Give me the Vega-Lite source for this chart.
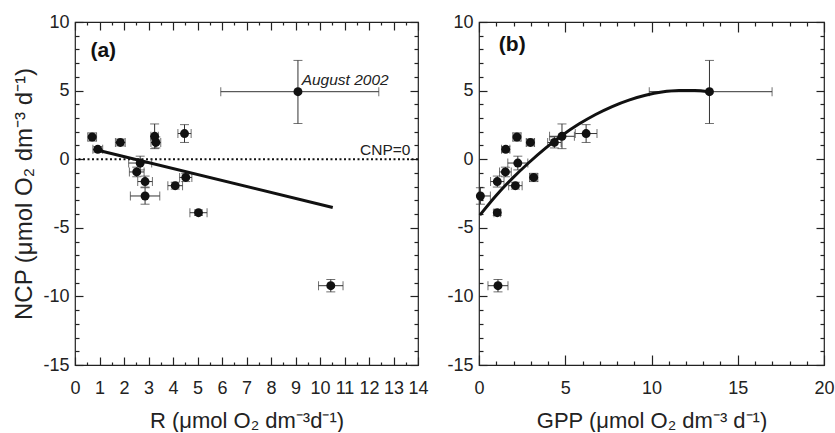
{
  "$schema": "https://vega.github.io/schema/vega-lite/v6.json",
  "padding": {"left": 12, "top": 12, "right": 0, "bottom": 0},
  "spacing": 17,
  "config": {
    "font": "Liberation Sans",
    "view": {"stroke": "#222", "strokeWidth": 1.2},
    "axis": {"grid": false, "domain": false, "tickColor": "#222", "tickWidth": 1.2, "labelColor": "#222", "labelFontSize": 18, "labelOverlap": false, "labelFlush": false, "titleFontSize": 22, "titleFontWeight": "normal", "titleColor": "#222", "labelExpr": "toString(datum.value)"},
    "axisLeft": {"labelPadding": 14, "titlePadding": 6, "titleFontSize": 24},
    "axisBottom": {"labelPadding": 22, "titlePadding": 13}
  },
  "datasets": {
    "st": [
      {"R": 0.7, "Rlo": 0.52, "Rhi": 0.88, "NCP": 1.62, "Nlo": 1.32, "Nhi": 1.92, "GPP": 2.2, "Glo": 1.96, "Ghi": 2.44},
      {"R": 0.93, "Rlo": 0.73, "Rhi": 1.13, "NCP": 0.72, "Nlo": 0.52, "Nhi": 0.92, "GPP": 1.55, "Glo": 1.31, "Ghi": 1.79},
      {"R": 1.85, "Rlo": 1.65, "Rhi": 2.05, "NCP": 1.22, "Nlo": 0.97, "Nhi": 1.47, "GPP": 2.98, "Glo": 2.74, "Ghi": 3.22},
      {"R": 3.25, "Rlo": 3.1, "Rhi": 3.4, "NCP": 1.67, "Nlo": 0.77, "Nhi": 2.57, "GPP": 4.81, "Glo": 4.09, "Ghi": 5.53},
      {"R": 3.3, "Rlo": 3.1, "Rhi": 3.5, "NCP": 1.22, "Nlo": 0.82, "Nhi": 1.62, "GPP": 4.37, "Glo": 3.98, "Ghi": 4.76},
      {"R": 4.47, "Rlo": 4.2, "Rhi": 4.74, "NCP": 1.87, "Nlo": 1.22, "Nhi": 2.52, "GPP": 6.21, "Glo": 5.58, "Ghi": 6.84},
      {"R": 2.66, "Rlo": 2.19, "Rhi": 3.13, "NCP": -0.28, "Nlo": -0.78, "Nhi": 0.22, "GPP": 2.25, "Glo": 1.67, "Ghi": 2.83},
      {"R": 2.52, "Rlo": 2.22, "Rhi": 2.82, "NCP": -0.93, "Nlo": -1.28, "Nhi": -0.58, "GPP": 1.53, "Glo": 1.19, "Ghi": 1.87},
      {"R": 2.86, "Rlo": 2.56, "Rhi": 3.16, "NCP": -1.63, "Nlo": -2.03, "Nhi": -1.23, "GPP": 1.06, "Glo": 0.67, "Ghi": 1.45},
      {"R": 2.86, "Rlo": 2.26, "Rhi": 3.46, "NCP": -2.68, "Nlo": -3.28, "Nhi": -2.08, "GPP": 0.08, "Glo": 0, "Ghi": 0.66},
      {"R": 4.09, "Rlo": 3.79, "Rhi": 4.39, "NCP": -1.93, "Nlo": -2.18, "Nhi": -1.68, "GPP": 2.11, "Glo": 1.72, "Ghi": 2.5},
      {"R": 4.52, "Rlo": 4.27, "Rhi": 4.77, "NCP": -1.33, "Nlo": -1.63, "Nhi": -1.03, "GPP": 3.17, "Glo": 2.93, "Ghi": 3.41},
      {"R": 5.04, "Rlo": 4.69, "Rhi": 5.39, "NCP": -3.9, "Nlo": -4.1, "Nhi": -3.7, "GPP": 1.06, "Glo": 0.87, "Ghi": 1.25},
      {"R": 10.44, "Rlo": 9.94, "Rhi": 10.94, "NCP": -9.22, "Nlo": -9.67, "Nhi": -8.77, "GPP": 1.1, "Glo": 0.52, "Ghi": 1.68},
      {"R": 9.1, "Rlo": 5.95, "Rhi": 12.4, "NCP": 4.92, "Nlo": 2.6, "Nhi": 7.2, "GPP": 13.36, "Glo": 9.87, "Ghi": 16.99}
    ],
    "reg": [{"R": 0.77, "NCP": 0.72}, {"R": 10.52, "NCP": -3.52}],
    "curve": [
      {"GPP": 0.05, "NCP": -4.08}, {"GPP": 0.97, "NCP": -2.68}, {"GPP": 1.93, "NCP": -1.4}, {"GPP": 2.9, "NCP": -0.24},
      {"GPP": 3.86, "NCP": 0.81}, {"GPP": 4.83, "NCP": 1.75}, {"GPP": 5.79, "NCP": 2.56}, {"GPP": 6.76, "NCP": 3.26},
      {"GPP": 7.72, "NCP": 3.84}, {"GPP": 8.69, "NCP": 4.31}, {"GPP": 9.65, "NCP": 4.66}, {"GPP": 10.6, "NCP": 4.9},
      {"GPP": 11.6, "NCP": 5.01}, {"GPP": 12.5, "NCP": 5.01}, {"GPP": 13.36, "NCP": 4.92}
    ],
    "labA": [{"R": 0.63, "NCP": 7.88, "t": "(a)"}],
    "annA": [{"R": 9.25, "NCP": 5.39, "t": "August 2002"}],
    "cnp": [{"R": 13.69, "NCP": 0.28, "t": "CNP=0"}],
    "labB": [{"GPP": 1.15, "NCP": 8.36, "t": "(b)"}]
  },
  "hconcat": [
    {
      "width": 343, "height": 343,
      "layer": [
        {
          "data": {"values": [{"NCP": 0}]},
          "mark": {"type": "rule", "strokeDash": [2, 2.5], "strokeWidth": 2, "color": "#111"},
          "encoding": {"y": {"field": "NCP", "type": "quantitative", "scale": {"domain": [-15, 10], "nice": false},
            "axis": {"orient": "left", "values": [-14,-13,-12,-11,-9,-8,-7,-6,-4,-3,-2,-1,1,2,3,4,6,7,8,9], "labels": false, "tickSize": -4, "title": null}}}
        },
        {
          "data": {"name": "st"},
          "mark": {"type": "errorbar", "ticks": {"size": 9}, "color": "#333"},
          "encoding": {
            "x": {"field": "Rlo", "type": "quantitative", "scale": {"domain": [0, 14], "nice": false}, "axis": null},
            "x2": {"field": "Rhi"},
            "y": {"field": "NCP", "type": "quantitative", "scale": {"domain": [-15, 10], "nice": false}, "axis": null}
          }
        },
        {
          "data": {"name": "st"},
          "mark": {"type": "errorbar", "ticks": {"size": 9}, "color": "#333"},
          "encoding": {
            "y": {"field": "Nlo", "type": "quantitative", "scale": {"domain": [-15, 10], "nice": false}, "axis": null},
            "y2": {"field": "Nhi"},
            "x": {"field": "R", "type": "quantitative", "scale": {"domain": [0, 14], "nice": false}, "axis": null}
          }
        },
        {
          "data": {"name": "st"},
          "mark": {"type": "circle", "size": 80, "color": "#111", "opacity": 1},
          "encoding": {
            "x": {"field": "R", "type": "quantitative", "scale": {"domain": [0, 14], "nice": false},
              "axis": {"orient": "bottom", "values": [0,1,2,3,4,5,6,7,8,9,10,11,12,13,14], "tickSize": -8, "title": "R (μmol O₂ dm⁻³d⁻¹)"}},
            "y": {"field": "NCP", "type": "quantitative", "scale": {"domain": [-15, 10], "nice": false},
              "axis": {"orient": "left", "values": [-15,-10,-5,0,5,10], "tickSize": -8, "title": "NCP (μmol O₂ dm⁻³ d⁻¹)"}}
          }
        },
        {
          "data": {"name": "reg"},
          "mark": {"type": "line", "strokeWidth": 3, "color": "#111"},
          "encoding": {
            "x": {"field": "R", "type": "quantitative", "scale": {"domain": [0, 14], "nice": false},
              "axis": {"orient": "top", "values": [0,1,2,3,4,5,6,7,8,9,10,11,12,13,14], "tickSize": -8, "labels": false, "title": null}},
            "y": {"field": "NCP", "type": "quantitative", "scale": {"domain": [-15, 10], "nice": false},
              "axis": {"orient": "right", "values": [-15,-10,-5,0,5,10], "tickSize": -8, "labels": false, "title": null}}
          }
        },
        {
          "data": {"name": "labA"},
          "mark": {"type": "text", "fontWeight": "bold", "fontSize": 21, "align": "left", "baseline": "middle", "color": "#111"},
          "encoding": {
            "text": {"field": "t"},
            "x": {"field": "R", "type": "quantitative", "scale": {"domain": [0, 14], "nice": false},
              "axis": {"orient": "bottom", "values": [0.5,1.5,2.5,3.5,4.5,5.5,6.5,7.5,8.5,9.5,10.5,11.5,12.5,13.5], "tickSize": -3, "labels": false, "title": null}},
            "y": {"field": "NCP", "type": "quantitative", "scale": {"domain": [-15, 10], "nice": false},
              "axis": {"orient": "right", "values": [-14,-13,-12,-11,-9,-8,-7,-6,-4,-3,-2,-1,1,2,3,4,6,7,8,9], "tickSize": -4, "labels": false, "title": null}}
          }
        },
        {
          "data": {"name": "annA"},
          "mark": {"type": "text", "fontStyle": "italic", "fontSize": 15.5, "align": "left", "baseline": "alphabetic", "color": "#222"},
          "encoding": {
            "text": {"field": "t"},
            "x": {"field": "R", "type": "quantitative", "scale": {"domain": [0, 14], "nice": false},
              "axis": {"orient": "top", "values": [0.5,1.5,2.5,3.5,4.5,5.5,6.5,7.5,8.5,9.5,10.5,11.5,12.5,13.5], "tickSize": -3, "labels": false, "title": null}},
            "y": {"field": "NCP", "type": "quantitative", "scale": {"domain": [-15, 10], "nice": false}, "axis": null}
          }
        },
        {
          "data": {"name": "cnp"},
          "mark": {"type": "text", "fontSize": 15.5, "align": "right", "baseline": "alphabetic", "color": "#222"},
          "encoding": {
            "text": {"field": "t"},
            "x": {"field": "R", "type": "quantitative", "scale": {"domain": [0, 14], "nice": false}, "axis": null},
            "y": {"field": "NCP", "type": "quantitative", "scale": {"domain": [-15, 10], "nice": false}, "axis": null}
          }
        }
      ],
      "resolve": {"axis": {"x": "independent", "y": "independent"}}
    },
    {
      "width": 345, "height": 343,
      "layer": [
        {
          "data": {"name": "st"},
          "mark": {"type": "errorbar", "ticks": {"size": 9}, "color": "#333"},
          "encoding": {
            "x": {"field": "Glo", "type": "quantitative", "scale": {"domain": [0, 20], "nice": false}, "axis": null},
            "x2": {"field": "Ghi"},
            "y": {"field": "NCP", "type": "quantitative", "scale": {"domain": [-15, 10], "nice": false}, "axis": null}
          }
        },
        {
          "data": {"name": "st"},
          "mark": {"type": "errorbar", "ticks": {"size": 9}, "color": "#333"},
          "encoding": {
            "y": {"field": "Nlo", "type": "quantitative", "scale": {"domain": [-15, 10], "nice": false}, "axis": null},
            "y2": {"field": "Nhi"},
            "x": {"field": "GPP", "type": "quantitative", "scale": {"domain": [0, 20], "nice": false}, "axis": null}
          }
        },
        {
          "data": {"name": "st"},
          "mark": {"type": "circle", "size": 80, "color": "#111", "opacity": 1},
          "encoding": {
            "x": {"field": "GPP", "type": "quantitative", "scale": {"domain": [0, 20], "nice": false},
              "axis": {"orient": "bottom", "values": [0,5,10,15,20], "tickSize": -10, "labelPadding": 24, "title": "GPP (μmol O₂ dm⁻³ d⁻¹)"}},
            "y": {"field": "NCP", "type": "quantitative", "scale": {"domain": [-15, 10], "nice": false},
              "axis": {"orient": "left", "values": [-15,-10,-5,0,5,10], "tickSize": -8, "title": null}}
          }
        },
        {
          "data": {"name": "curve"},
          "mark": {"type": "line", "strokeWidth": 3, "color": "#111", "interpolate": "monotone"},
          "encoding": {
            "x": {"field": "GPP", "type": "quantitative", "scale": {"domain": [0, 20], "nice": false},
              "axis": {"orient": "top", "values": [0,5,10,15,20], "tickSize": -10, "labels": false, "title": null}},
            "y": {"field": "NCP", "type": "quantitative", "scale": {"domain": [-15, 10], "nice": false},
              "axis": {"orient": "right", "values": [-15,-10,-5,0,5,10], "tickSize": -8, "labels": false, "title": null}}
          }
        },
        {
          "data": {"name": "labB"},
          "mark": {"type": "text", "fontWeight": "bold", "fontSize": 21, "align": "left", "baseline": "middle", "color": "#111"},
          "encoding": {
            "text": {"field": "t"},
            "x": {"field": "GPP", "type": "quantitative", "scale": {"domain": [0, 20], "nice": false},
              "axis": {"orient": "bottom", "values": [1,2,3,4,6,7,8,9,11,12,13,14,16,17,18,19], "tickSize": -4, "labels": false, "title": null}},
            "y": {"field": "NCP", "type": "quantitative", "scale": {"domain": [-15, 10], "nice": false},
              "axis": {"orient": "left", "values": [-14,-13,-12,-11,-9,-8,-7,-6,-4,-3,-2,-1,1,2,3,4,6,7,8,9], "tickSize": -4, "labels": false, "title": null}}
          }
        },
        {
          "data": {"name": "labB"},
          "mark": {"type": "text", "opacity": 0},
          "encoding": {
            "text": {"field": "t"},
            "x": {"field": "GPP", "type": "quantitative", "scale": {"domain": [0, 20], "nice": false},
              "axis": {"orient": "top", "values": [1,2,3,4,6,7,8,9,11,12,13,14,16,17,18,19], "tickSize": -4, "labels": false, "title": null}},
            "y": {"field": "NCP", "type": "quantitative", "scale": {"domain": [-15, 10], "nice": false},
              "axis": {"orient": "right", "values": [-14,-13,-12,-11,-9,-8,-7,-6,-4,-3,-2,-1,1,2,3,4,6,7,8,9], "tickSize": -4, "labels": false, "title": null}}
          }
        }
      ],
      "resolve": {"axis": {"x": "independent", "y": "independent"}}
    }
  ]
}
